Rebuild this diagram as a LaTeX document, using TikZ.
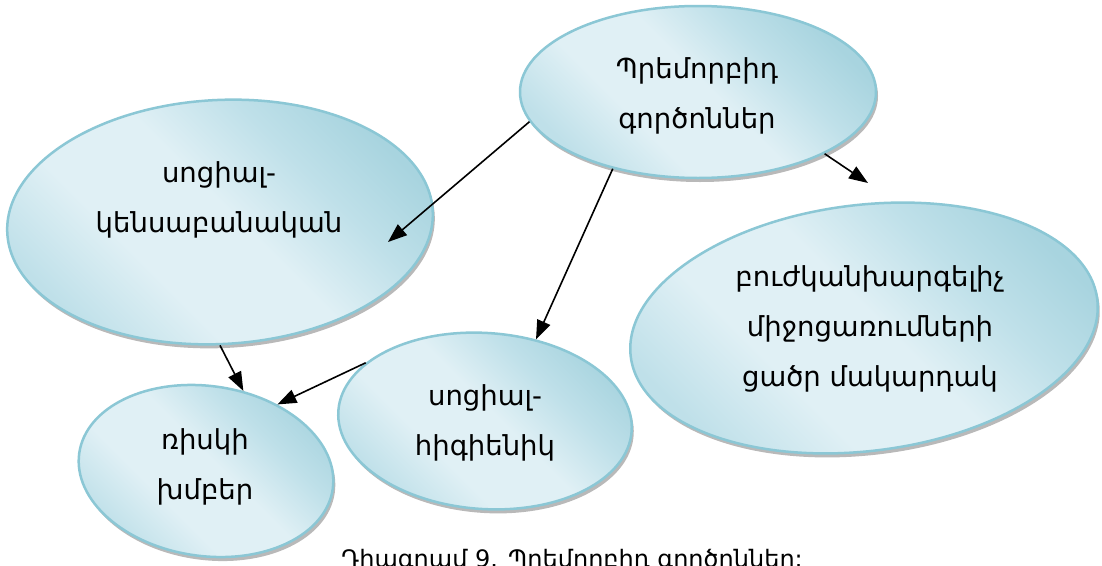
\documentclass[tikz,border=0pt]{standalone}
\usepackage{fontspec}
\setmainfont{DejaVu Sans}
\usetikzlibrary{shapes.geometric,shadows,arrows.meta}
\definecolor{edgeblue}{HTML}{8BC7D5}
\definecolor{lightblue}{HTML}{E0F0F5}
\definecolor{darkblue}{HTML}{A8D4DF}
\definecolor{midblue}{HTML}{BFE0E9}
\pgfdeclareverticalshading{blobshade}{100bp}{color(0bp)=(midblue); color(25bp)=(midblue); color(38bp)=(lightblue); color(52bp)=(lightblue); color(64bp)=(midblue); color(75bp)=(darkblue); color(100bp)=(darkblue)}
\tikzset{
 blob/.style={ellipse, draw=edgeblue, line width=2.5pt, inner sep=0pt,
   shading=blobshade, shading angle=-45,
   drop shadow={shadow xshift=2pt, shadow yshift=-4pt, fill=black!50, opacity=0.55}},
 lbl/.style={align=center, font=\fontsize{27.5}{50}\selectfont, text=black, inner sep=0pt},
 arr/.style={-{Triangle[length=19pt,width=14pt]}, line width=1.6pt},
}
\begin{document}
\begin{tikzpicture}[x=1pt,y=-1pt]
\clip (0,0) rectangle (1102,565);
\fill[white] (0,0) rectangle (1102,565);
% ellipses
\node[blob, minimum width=356pt, minimum height=172pt] (top) at (698,92) {};
\node[blob, minimum width=426pt, minimum height=244pt, rotate=3] (left) at (220,222) {};
\node[blob, minimum width=470pt, minimum height=246pt, rotate=7] (right) at (864,328) {};
\node[blob, minimum width=256pt, minimum height=170pt, rotate=-8] (risk) at (206,471) {};
\node[blob, minimum width=294pt, minimum height=176pt, rotate=-4] (hyg) at (485,421) {};
% labels
\node[lbl] (topT) at (697,96) {Պրեմորբիդ\\գործոններ};
\node[lbl] (leftT) at (219,200) {սոցիալ-\\կենսաբանական};
\node[lbl] (rightT) at (870,329) {բուժկանխարգելիչ\\միջոցառումների\\ցածր մակարդակ};
\node[lbl] (hygT) at (485,423) {սոցիալ-\\հիգիենիկ};
\node[lbl] (riskT) at (205,467) {ռիսկի\\խմբեր};
% connector ends
\coordinate (tipA) at (388,242);
\coordinate (tipC) at (868,183);
% connectors
\draw[arr] (top.190) -- (tipA);
\draw[arr] (top.222) -- (hyg.62);
\draw[arr] (top.334) -- (tipC);
\draw[arr] (left.267) -- (risk.73);
\draw[arr] (hyg.158) -- (risk.51.5);
% caption
\node[anchor=base, font=\fontsize{24}{28}\selectfont, inner sep=0pt] (cap) at (572,567) {Դիագրամ 9. Պրեմորբիդ գործոններ:};
\end{tikzpicture}
\end{document}
